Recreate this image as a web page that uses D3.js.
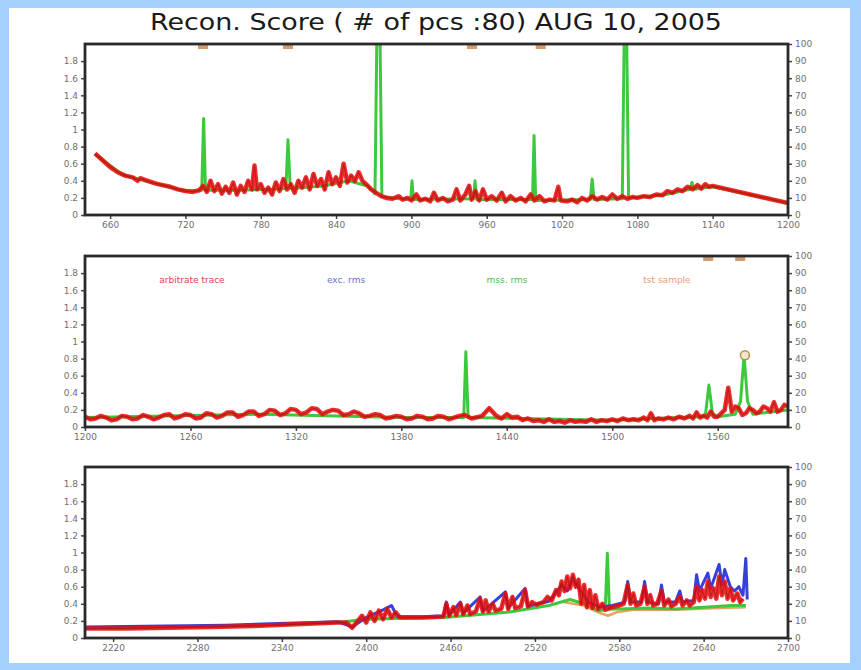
<!DOCTYPE html>
<html><head><meta charset="utf-8">
<script src="https://cdn.jsdelivr.net/npm/d3@7"></script>
<style>html,body{margin:0;padding:0;background:#a3d0ff;} svg{display:block}</style>
</head><body>
<svg id="c" width="861" height="670"></svg>
<script>
// ---------- data ----------
const titleText = "Recon. Score ( # of pcs :80) AUG 10, 2005";
const leftTicks = [0, 0.2, 0.4, 0.6, 0.8, 1, 1.2, 1.4, 1.6, 1.8];
const rightTicks = [0, 10, 20, 30, 40, 50, 60, 70, 80, 90, 100];
const p1XTicks = [660, 720, 780, 840, 900, 960, 1020, 1080, 1140, 1200];
const p2XTicks = [1200, 1260, 1320, 1380, 1440, 1500, 1560];
const p3XTicks = [2220, 2280, 2340, 2400, 2460, 2520, 2580, 2640, 2700];
const legendLabels = ["arbitrate trace", "exc. rms", "mss. rms", "tst sample"];

// panel 1 (x 640-1200)
const p1Red = [[648,0.72],[654,0.64],[660,0.56],[666,0.5],[672,0.46],[678,0.44],[682,0.40],[684,0.43],[690,0.4],[696,0.37],[702,0.35],[708,0.33],[714,0.3],[720,0.28],[726,0.27],[731,0.29],[734,0.34],[737,0.27],[740,0.40],[743,0.28],[746,0.36],[749,0.25],[752,0.33],[755,0.26],[758,0.38],[761,0.24],[764,0.34],[767,0.27],[770,0.40],[773,0.30],[775,0.58],[777,0.30],[780,0.36],[783,0.26],[786,0.32],[789,0.24],[792,0.38],[795,0.28],[798,0.42],[801,0.30],[804,0.36],[807,0.26],[810,0.40],[813,0.32],[816,0.44],[819,0.30],[822,0.48],[825,0.34],[828,0.42],[831,0.30],[834,0.50],[837,0.36],[840,0.44],[843,0.34],[846,0.60],[849,0.38],[852,0.46],[855,0.40],[858,0.50],[861,0.40],[864,0.36],[868,0.30],[872,0.26],[876,0.22],[880,0.20],[885,0.19],[890,0.22],[893,0.18],[897,0.20],[900,0.17],[904,0.24],[907,0.17],[911,0.19],[915,0.16],[918,0.26],[921,0.17],[925,0.20],[929,0.16],[933,0.18],[936,0.30],[939,0.17],[943,0.24],[946,0.34],[948,0.18],[951,0.28],[954,0.17],[957,0.30],[960,0.18],[964,0.22],[968,0.17],[972,0.26],[975,0.16],[979,0.22],[983,0.17],[987,0.20],[991,0.16],[995,0.24],[998,0.17],[1002,0.22],[1006,0.16],[1010,0.18],[1014,0.17],[1017,0.33],[1019,0.17],[1024,0.16],[1028,0.18],[1032,0.15],[1036,0.20],[1040,0.17],[1044,0.22],[1048,0.18],[1052,0.21],[1056,0.18],[1060,0.24],[1064,0.19],[1068,0.22],[1072,0.19],[1076,0.21],[1080,0.20],[1085,0.22],[1090,0.21],[1095,0.24],[1100,0.23],[1104,0.28],[1108,0.26],[1112,0.30],[1116,0.28],[1120,0.33],[1124,0.30],[1128,0.35],[1131,0.31],[1134,0.36],[1137,0.33],[1140,0.34],[1200,0.14]];
const p1Green = [[648,0.71],[670,0.47],[700,0.35],[720,0.28],[733,0.29],[734.5,1.13],[736,0.29],[760,0.29],[790,0.30],[800,0.31],[801.7,0.88],[803.5,0.31],[830,0.34],[850,0.40],[865,0.34],[871,0.25],[872.5,2.1],[875,2.1],[876.5,0.22],[890,0.19],[899.5,0.18],[900.5,0.40],[901.5,0.18],[949.5,0.19],[950.7,0.40],[952,0.18],[996.5,0.18],[997.7,0.93],[999,0.17],[1042.5,0.18],[1044,0.42],[1045.5,0.18],[1068,0.19],[1069.5,2.1],[1071.5,2.1],[1073,0.2],[1100,0.23],[1122,0.30],[1123.5,0.38],[1125,0.30],[1140,0.33],[1200,0.14]];
const p1TestTop = [[734,100],[801.7,100],[948.3,100],[1003,100]];

// panel 2 (x 1200-1600)
const p2Red = [[1200,0.12],[1203,0.09],[1206,0.10],[1209,0.13],[1212,0.11],[1215,0.08],[1218,0.09],[1221,0.13],[1224,0.12],[1227,0.09],[1230,0.10],[1233,0.14],[1236,0.12],[1239,0.09],[1242,0.11],[1245,0.14],[1248,0.15],[1251,0.10],[1254,0.12],[1257,0.15],[1260,0.14],[1263,0.10],[1266,0.11],[1269,0.16],[1272,0.15],[1275,0.11],[1278,0.13],[1281,0.17],[1284,0.17],[1287,0.12],[1290,0.14],[1293,0.18],[1296,0.18],[1299,0.13],[1302,0.15],[1305,0.20],[1308,0.19],[1311,0.14],[1314,0.16],[1317,0.21],[1320,0.20],[1323,0.15],[1326,0.17],[1329,0.22],[1332,0.21],[1335,0.15],[1338,0.18],[1341,0.20],[1344,0.19],[1347,0.14],[1350,0.15],[1353,0.18],[1356,0.16],[1359,0.12],[1362,0.13],[1365,0.15],[1368,0.14],[1371,0.10],[1374,0.11],[1377,0.13],[1380,0.12],[1383,0.09],[1386,0.10],[1389,0.13],[1392,0.12],[1395,0.09],[1398,0.10],[1401,0.13],[1404,0.12],[1407,0.09],[1410,0.11],[1413,0.13],[1416,0.14],[1420,0.10],[1426,0.13],[1430,0.22],[1434,0.13],[1437,0.10],[1440,0.15],[1443,0.11],[1446,0.12],[1449,0.08],[1452,0.10],[1455,0.07],[1458,0.08],[1461,0.06],[1464,0.09],[1467,0.06],[1470,0.07],[1473,0.05],[1476,0.08],[1479,0.06],[1482,0.07],[1485,0.06],[1488,0.09],[1491,0.06],[1494,0.08],[1497,0.07],[1500,0.09],[1503,0.07],[1506,0.10],[1509,0.08],[1512,0.09],[1515,0.08],[1518,0.11],[1520,0.08],[1522,0.16],[1524,0.08],[1526,0.10],[1529,0.09],[1532,0.11],[1535,0.09],[1538,0.12],[1541,0.10],[1544,0.13],[1546,0.10],[1548,0.17],[1550,0.11],[1552,0.13],[1554,0.11],[1556,0.18],[1558,0.12],[1560,0.12],[1562,0.16],[1564,0.20],[1566,0.46],[1568,0.18],[1570,0.24],[1572,0.22],[1574,0.14],[1576,0.16],[1578,0.22],[1580,0.20],[1582,0.16],[1584,0.18],[1586,0.24],[1588,0.22],[1590,0.18],[1592,0.29],[1594,0.18],[1596,0.20],[1598,0.26],[1600,0.24]];
const p2Green = [[1200,0.11],[1300,0.15],[1380,0.11],[1415.5,0.11],[1416.7,0.88],[1418,0.11],[1500,0.08],[1550,0.12],[1553,0.14],[1555,0.49],[1557,0.16],[1560,0.12],[1570,0.15],[1573,0.3],[1575,0.84],[1577,0.3],[1580,0.15],[1600,0.2]];
const p2TestTop = [[1554.6,100],[1572.8,100]];
const p2TestPoint = [[1575.5,42]];

// panel 3 (x 2200-2700)
const p3Red = [[2200,0.11],[2230,0.11],[2260,0.12],[2290,0.13],[2320,0.14],[2350,0.16],[2380,0.18],[2386,0.18],[2390,0.12],[2394,0.20],[2397,0.26],[2400,0.18],[2403,0.30],[2406,0.20],[2409,0.32],[2412,0.22],[2415,0.34],[2418,0.24],[2421,0.30],[2424,0.24],[2440,0.24],[2455,0.25],[2457,0.40],[2459,0.26],[2462,0.36],[2464,0.27],[2467,0.40],[2469,0.28],[2472,0.38],[2474,0.28],[2478,0.31],[2481,0.46],[2483,0.31],[2485,0.44],[2487,0.31],[2490,0.40],[2492,0.32],[2496,0.34],[2499,0.52],[2501,0.34],[2504,0.48],[2506,0.35],[2510,0.37],[2513,0.56],[2515,0.37],[2518,0.42],[2521,0.39],[2526,0.42],[2529,0.48],[2532,0.44],[2535,0.56],[2537,0.50],[2539,0.66],[2541,0.55],[2543,0.72],[2545,0.58],[2547,0.74],[2549,0.60],[2551,0.68],[2553,0.40],[2555,0.62],[2557,0.36],[2559,0.56],[2561,0.35],[2563,0.50],[2565,0.34],[2568,0.40],[2570,0.33],[2575,0.36],[2580,0.38],[2583,0.40],[2586,0.62],[2588,0.40],[2590,0.52],[2592,0.38],[2595,0.40],[2598,0.60],[2600,0.40],[2602,0.50],[2604,0.38],[2607,0.40],[2610,0.55],[2612,0.38],[2615,0.45],[2617,0.37],[2620,0.40],[2623,0.48],[2625,0.38],[2628,0.44],[2630,0.38],[2633,0.42],[2635,0.60],[2637,0.44],[2639,0.56],[2641,0.46],[2643,0.66],[2645,0.48],[2647,0.58],[2649,0.46],[2651,0.72],[2653,0.50],[2655,0.66],[2657,0.46],[2659,0.58],[2661,0.44],[2664,0.52],[2666,0.42],[2668,0.46]];
const p3Blue = [[2200,0.13],[2300,0.15],[2380,0.19],[2390,0.13],[2400,0.24],[2412,0.33],[2418,0.38],[2422,0.25],[2440,0.25],[2455,0.26],[2457,0.42],[2459,0.27],[2467,0.42],[2469,0.29],[2481,0.48],[2483,0.31],[2499,0.54],[2501,0.35],[2513,0.58],[2515,0.37],[2530,0.43],[2539,0.62],[2543,0.55],[2547,0.70],[2552,0.56],[2558,0.42],[2566,0.36],[2575,0.38],[2584,0.42],[2586,0.66],[2588,0.42],[2596,0.42],[2598,0.66],[2600,0.42],[2608,0.40],[2610,0.62],[2612,0.42],[2620,0.42],[2623,0.55],[2625,0.42],[2633,0.44],[2635,0.74],[2637,0.55],[2643,0.76],[2645,0.58],[2651,0.86],[2653,0.62],[2655,0.80],[2659,0.60],[2662,0.55],[2665,0.60],[2668,0.50],[2670,0.93],[2671,0.45]];
const p3Green = [[2200,0.12],[2300,0.14],[2380,0.18],[2400,0.22],[2425,0.23],[2455,0.24],[2500,0.30],[2530,0.38],[2545,0.45],[2555,0.40],[2565,0.32],[2570,0.33],[2571.5,0.99],[2573,0.34],[2580,0.34],[2600,0.35],[2620,0.34],[2640,0.36],[2660,0.38],[2670,0.38]];
const p3Orange = [[2540,0.42],[2555,0.38],[2565,0.30],[2572,0.26],[2578,0.30],[2590,0.33],[2620,0.33],[2650,0.35],[2670,0.36]];

// ---------- drawing ----------
const colors = {red:"#f01010", blue:"#2b36d8", green:"#3ec83e", orange:"#e8964e"};
const legendColors = ["#e0405a","#6a70d0","#50c050","#eaa070"];
const svg = d3.select("#c");
svg.append("rect").attr("x",9).attr("y",8).attr("width",841).attr("height",655).attr("fill","#ffffff");

svg.append("text").attr("x",436).attr("y",30).attr("text-anchor","middle")
  .attr("font-family","DejaVu Sans, sans-serif").attr("font-size",23).attr("fill","#1a1a1a")
  .attr("textLength",572).attr("lengthAdjust","spacingAndGlyphs").text(titleText);

const L = 85, R = 788, H = 171;
const panels = [
  {top:44, dom:[640,1200], ticks:p1XTicks, red:p1Red, green:p1Green, top100:p1TestTop},
  {top:256, dom:[1200,1600], ticks:p2XTicks, red:p2Red, green:p2Green, top100:p2TestTop, pts:p2TestPoint, legend:true},
  {top:467, dom:[2200,2700], ticks:p3XTicks, red:p3Red, green:p3Green, blue:p3Blue, orange:p3Orange}
];

panels.forEach((p,i)=>{
  const x = d3.scaleLinear().domain(p.dom).range([L,R]);
  const y = d3.scaleLinear().domain([0,2]).range([p.top+H, p.top]);
  const y2 = d3.scaleLinear().domain([0,100]).range([p.top+H, p.top]);
  const g = svg.append("g");
  const cid = "clip"+i;
  svg.append("clipPath").attr("id",cid).append("rect").attr("x",L).attr("y",p.top).attr("width",R-L).attr("height",H);
  const plot = g.append("g").attr("clip-path",`url(#${cid})`);
  const line = d3.line().x(d=>x(d[0])).y(d=>y(d[1]));
  const draw = (data,col,w,op)=>{ if(!data) return;
    plot.append("path").datum(data).attr("d",line).attr("fill","none").attr("stroke",col)
      .attr("stroke-width",w).attr("stroke-linejoin","round").attr("opacity",op); };
  draw(p.orange, colors.orange, 2.5, 0.9);
  draw(p.green, colors.green, 3, 1);
  draw(p.blue, colors.blue, 3, 0.95);
  draw(p.red, colors.red, 4.5, 0.88);
  if (p.red) plot.append("path").datum(p.red).attr("d",line).attr("fill","none").attr("stroke","#8a1010").attr("stroke-width",1.2).attr("opacity",0.5);

  if (p.top100) plot.selectAll(".tm").data(p.top100).join("rect")
      .attr("x",d=>x(d[0])-5).attr("y",d=>y2(d[1])+1).attr("width",10).attr("height",4)
      .attr("fill","#c8824a").attr("opacity",0.8);
  if (p.pts) g.selectAll(".tp").data(p.pts).join("circle")
      .attr("cx",d=>x(d[0])).attr("cy",d=>y2(d[1])).attr("r",4.5)
      .attr("fill","#f4e6c8").attr("stroke","#b09050").attr("stroke-width",1.5);

  const fmtL = d=> d===0 ? "0" : String(+d.toFixed(1));
  const ax = [
    g.append("g").attr("transform",`translate(${L},0)`).call(d3.axisLeft(y).tickValues(leftTicks).tickSize(4).tickFormat(fmtL)),
    g.append("g").attr("transform",`translate(${R},0)`).call(d3.axisRight(y2).tickValues(rightTicks).tickSize(4)),
    g.append("g").attr("transform",`translate(0,${p.top+H})`).call(d3.axisBottom(x).tickValues(p.ticks).tickSize(4).tickFormat(d3.format("d")))
  ];
  ax.forEach(a=>{
    a.select(".domain").remove();
    a.selectAll("line").attr("stroke","#444").attr("stroke-width",1.5);
    a.selectAll("text").attr("fill","#707070").attr("font-size",9).attr("font-family","DejaVu Sans, sans-serif");
  });
  g.append("rect").attr("x",L).attr("y",p.top).attr("width",R-L).attr("height",H)
    .attr("fill","none").attr("stroke","#2a2a2a").attr("stroke-width",2.8);

  if (p.legend) {
    const lx = [192, 346, 507, 667];
    g.selectAll(".lg").data(legendLabels).join("text")
      .attr("x",(d,k)=>lx[k]).attr("y",p.top+27).attr("text-anchor","middle")
      .attr("font-family","DejaVu Sans, sans-serif").attr("font-size",9)
      .attr("fill",(d,k)=>legendColors[k]).text(d=>d);
  }
});
</script>
</body></html>
